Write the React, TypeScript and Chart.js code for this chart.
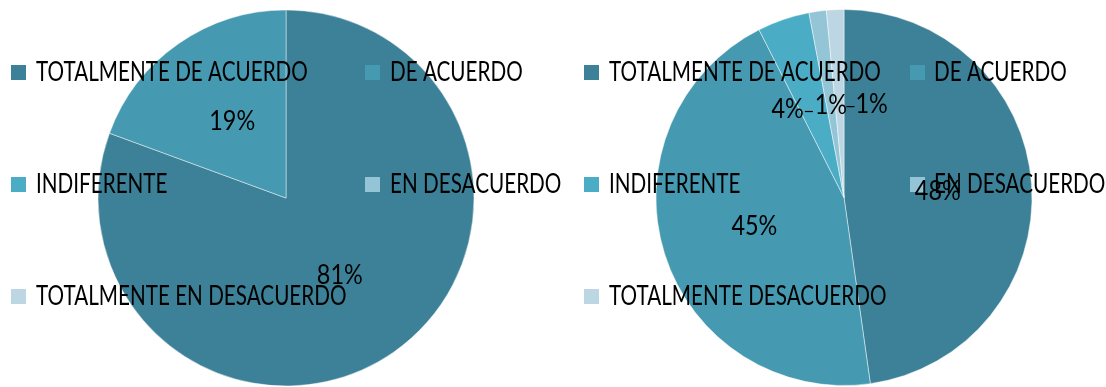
import React, { useEffect, useRef } from "react";
import { Chart, registerables } from "chart.js";

Chart.register(...registerables);

const categoriesLeft = [
  "TOTALMENTE DE ACUERDO",
  "DE ACUERDO",
  "INDIFERENTE",
  "EN DESACUERDO",
  "TOTALMENTE EN DESACUERDO",
];
const categoriesRight = [
  "TOTALMENTE DE ACUERDO",
  "DE ACUERDO",
  "INDIFERENTE",
  "EN DESACUERDO",
  "TOTALMENTE DESACUERDO",
];
const valuesLeft = [54, 13, 0, 0, 0];
const valuesRight = [32, 30, 3, 1, 1];
const sliceColors = ["#3C8197", "#4599B1", "#4BACC6", "#94C5D6", "#BCD7E3"];

const FONT_SIZE = 26;
const CONDENSE = 0.795;
const LABEL_CONDENSE = 0.9;
const CAP_HALF = 9.3;

function drawCondensed(
  ctx: CanvasRenderingContext2D,
  text: string,
  x: number,
  y: number,
  align: "left" | "center",
  sx: number
) {
  ctx.save();
  ctx.translate(x, y);
  ctx.scale(sx, 1);
  ctx.textAlign = align;
  ctx.textBaseline = "alphabetic";
  ctx.fillText(text, 0, 0);
  ctx.restore();
}

const overlayPlugin = {
  id: "overlay",
  afterDatasetsDraw(chart: any, _args: any, opts: any) {
    const ctx: CanvasRenderingContext2D = chart.ctx;
    const meta = chart.getDatasetMeta(0);
    const data = chart.data.datasets[0].data as number[];
    const colors = chart.data.datasets[0].backgroundColor as string[];
    const total = data.reduce((a: number, b: number) => a + b, 0);
    ctx.save();
    ctx.font = `${FONT_SIZE}px Lato, "Open Sans", sans-serif`;
    // legend
    (chart.data.labels as string[]).forEach((lab, i) => {
      const col = i % 2;
      const row = Math.floor(i / 2);
      const c = opts.legendCols[col];
      const cy = opts.legendRows[row];
      ctx.fillStyle = colors[i];
      ctx.fillRect(c.swatch, cy - 7, 15, 15);
      ctx.fillStyle = "#000";
      drawCondensed(ctx, lab, c.text, cy + CAP_HALF, "left", CONDENSE);
    });
    // percentage labels
    meta.data.forEach((arc: any, i: number) => {
      if (!data[i]) return;
      const p = arc.tooltipPosition(false);
      const shift = (opts.labelShift && opts.labelShift[i]) || 0;
      const txt = Math.round((data[i] / total) * 100) + "%";
      const x = p.x + shift;
      ctx.fillStyle = "#000";
      drawCondensed(ctx, txt, x, p.y + CAP_HALF, "center", LABEL_CONDENSE);
      if (shift !== 0) {
        const w = ctx.measureText(txt).width * LABEL_CONDENSE;
        ctx.strokeStyle = "#000";
        ctx.lineWidth = 1.2;
        ctx.beginPath();
        const ly = p.y + 3;
        if (shift < 0) {
          ctx.moveTo(x + w / 2 + 1, ly);
          ctx.lineTo(x + w / 2 + 9, ly);
        } else {
          ctx.moveTo(x - w / 2 - 9, ly);
          ctx.lineTo(x - w / 2 - 1, ly);
        }
        ctx.stroke();
      }
    });
    ctx.restore();
  },
};

function PieChart(props: {
  labels: string[];
  values: number[];
  radius: number;
  width: number;
  left: number;
  padding: { left: number; right: number; top: number; bottom: number };
  legendCols: { swatch: number; text: number }[];
  labelShift?: number[];
}) {
  const ref = useRef<HTMLCanvasElement>(null);
  useEffect(() => {
    if (!ref.current) return;
    const chart = new Chart(ref.current, {
      type: "pie",
      data: {
        labels: props.labels,
        datasets: [
          {
            data: props.values,
            backgroundColor: sliceColors,
            borderColor: "rgba(255,255,255,0.45)",
            borderWidth: 1,
            radius: props.radius,
            hoverOffset: 0,
            offset: 0,
          } as any,
        ],
      },
      options: {
        animation: false,
        responsive: false,
        devicePixelRatio: 1,
        layout: { padding: props.padding },
        events: [],
        plugins: {
          legend: { display: false },
          tooltip: { enabled: false },
          overlay: {
            legendCols: props.legendCols,
            legendRows: [72, 184, 296],
            labelShift: props.labelShift,
          },
        } as any,
      },
      plugins: [overlayPlugin as any],
    });
    return () => chart.destroy();
  }, []);
  return (
    <canvas
      ref={ref}
      width={props.width}
      height={387}
      style={{ display: "block", position: "absolute", left: props.left, top: 0 }}
    />
  );
}

export default function App() {
  return (
    <div style={{ position: "absolute", left: 0, top: 0, width: 1106, height: 387, background: "#fff", overflow: "hidden" }}>
      <PieChart
        labels={categoriesLeft}
        values={valuesLeft}
        radius={188}
        width={572}
        left={0}
        padding={{ left: 0, right: 0, top: 9, bottom: 0 }}
        legendCols={[
          { swatch: 11, text: 36 },
          { swatch: 365, text: 390 },
        ]}
      />
      <PieChart
        labels={categoriesRight}
        values={valuesRight}
        radius={188}
        width={553}
        left={553}
        padding={{ left: 29, right: 0, top: 8, bottom: 0 }}
        legendCols={[
          { swatch: 31, text: 56 },
          { swatch: 357, text: 381 },
        ]}
        labelShift={[0, 0, -26, 0, 32]}
      />
    </div>
  );
}
